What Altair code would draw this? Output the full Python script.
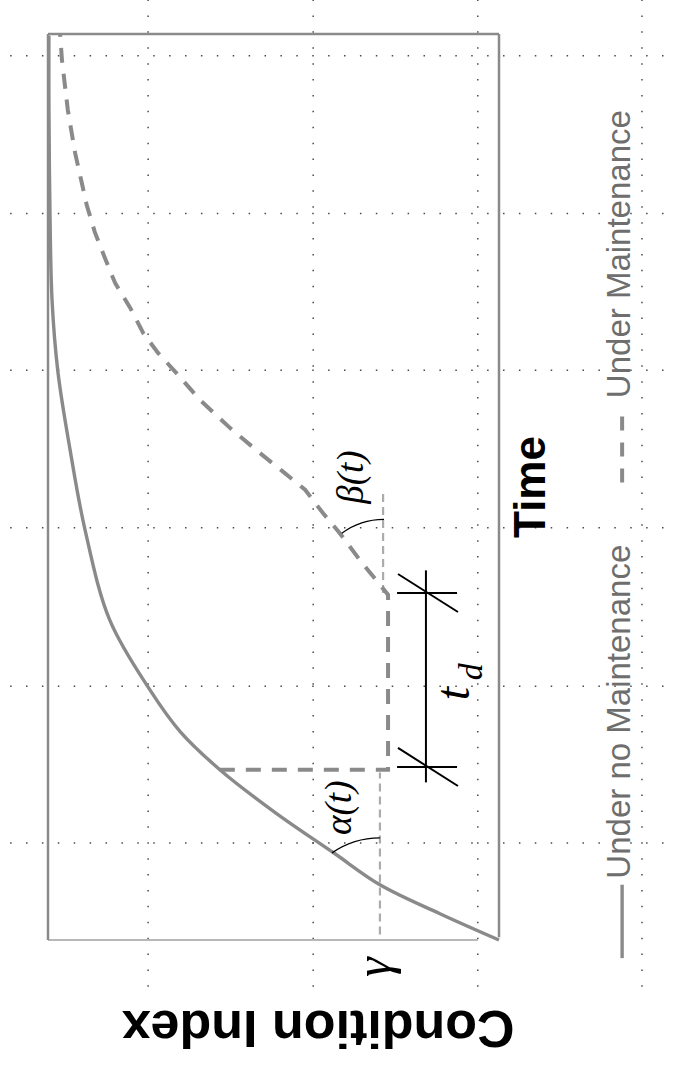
import altair as alt
import pandas as pd

# Condition index (c) runs right-to-left, time (t) runs bottom-to-top.
# Deterioration without maintenance
nm_t = [0.0, 0.29, 0.61, 0.96, 1.41, 1.88, 2.30, 2.76, 3.53, 4.53, 5.41, 6.27, 7.06, 8.17, 9.27, 9.98]
nm_c = [0.0, 1.31, 2.64, 3.66, 4.97, 6.19, 7.07, 7.74, 8.63, 9.18, 9.51, 9.78, 9.91, 9.96, 9.98, 9.98]

# Deterioration with a maintenance action (restore, hold for t_d, deteriorate again)
m_t = [1.88, 1.88, 3.81, 4.19, 4.49, 4.71, 4.97, 5.17, 5.39, 5.65, 5.96, 6.24, 6.48, 6.70,
       6.98, 7.25, 7.53, 7.81, 8.11, 8.69, 9.16, 9.71, 9.99]
m_c = [6.19, 2.46, 2.46, 3.08, 3.53, 3.90, 4.30, 4.79, 5.34, 5.96, 6.63, 7.12, 7.56, 7.89,
       8.18, 8.51, 8.74, 8.96, 9.14, 9.40, 9.56, 9.69, 9.73]

# Threshold gamma and angle reference guides
guide_c = [2.64, 2.57]
guide_t0 = [0.06, 3.83]
guide_t1 = [1.85, 4.95]

# t_d dimension line
td_c = 1.62
td_t = [1.74, 4.08]
td_ticks_t = [1.91, 3.83]
td_ticks_c = [2.26, 0.93]
td_slash_c = [2.24, 0.91]
td_slash_dt = [0.21, -0.21]

# Angle arcs: centre c, centre t, radius px, start angle
arc_c = [2.64, 2.55]
arc_t = [0.20, 3.86]
arc_r = [84, 71]
arc_theta = [5.676, 5.647]

# Background dotted grid
grid_vc = [7.78, 4.12, 0.47, -3.17]
grid_ht = [9.76, 8.02, 6.29, 4.55, 2.80, 1.07]

GRAY = "#8a8a8a"
LIGHT = "#ababab"

X = lambda f="c": alt.X(f"{f}:Q", scale=alt.Scale(domain=[10, 0], nice=False, zero=False), axis=None)
Y = lambda f="t": alt.Y(f"{f}:Q", scale=alt.Scale(domain=[0, 10], nice=False, zero=False), axis=None)

# dotted grid
gv = pd.DataFrame({"c": grid_vc, "t": [10.38] * 4, "t2": [-0.55] * 4})
gh = pd.DataFrame({"t": grid_ht, "c": [10.84] * 6, "c2": [-3.9] * 6})
grid_v = alt.Chart(gv).mark_rule(color="#4a4a4a", strokeWidth=1.5, strokeDash=[1.5, 14.4]).encode(
    x=X(), y=Y(), y2="t2:Q")
grid_h = alt.Chart(gh).mark_rule(color="#4a4a4a", strokeWidth=1.5, strokeDash=[1.5, 14.4]).encode(
    y=Y(), x=X(), x2="c2:Q")

# frame
frame_dark = pd.DataFrame({"c": [10, 10, 0], "c2": [10, 0, 0], "t": [0, 10, 10], "t2": [10, 10, 0.03]})
frame = alt.Chart(frame_dark).mark_rule(color=GRAY, strokeWidth=2.5).encode(
    x=X(), x2="c2:Q", y=Y(), y2="t2:Q")
base_line = alt.Chart(pd.DataFrame({"c": [10], "c2": [0.47], "t": [0], "t2": [0]})).mark_rule(
    color="#b8b8b8", strokeWidth=2).encode(x=X(), x2="c2:Q", y=Y(), y2="t2:Q")

# guides
gd = pd.DataFrame({"c": guide_c, "t": guide_t0, "t2": guide_t1})
guides = alt.Chart(gd).mark_rule(color=LIGHT, strokeWidth=2.2, strokeDash=[8, 5]).encode(
    x=X(), y=Y(), y2="t2:Q")

# curves
nm = pd.DataFrame({"c": nm_c, "t": nm_t, "i": range(len(nm_t))})
curve_nm = alt.Chart(nm).mark_line(color=GRAY, strokeWidth=3.4, interpolate="catmull-rom").encode(
    x=X(), y=Y(), order="i:Q")
md = pd.DataFrame({"c": m_c, "t": m_t, "i": range(len(m_t))})
curve_m = alt.Chart(md).mark_line(color=GRAY, strokeWidth=4, strokeDash=[15, 11]).encode(
    x=X(), y=Y(), order="i:Q")

# t_d dimension
tdl = alt.Chart(pd.DataFrame({"c": [td_c], "t": [td_t[0]], "t2": [td_t[1]]})).mark_rule(
    color="black", strokeWidth=2).encode(x=X(), y=Y(), y2="t2:Q")
tdt = alt.Chart(pd.DataFrame({"t": td_ticks_t, "c": [td_ticks_c[0]] * 2, "c2": [td_ticks_c[1]] * 2})).mark_rule(
    color="black", strokeWidth=2).encode(x=X(), x2="c2:Q", y=Y(), y2="t:Q")
slash = pd.DataFrame({
    "c": [td_slash_c[0]] * 2, "c2": [td_slash_c[1]] * 2,
    "t": [td_ticks_t[0] + td_slash_dt[0], td_ticks_t[1] + td_slash_dt[0]],
    "t2": [td_ticks_t[0] + td_slash_dt[1], td_ticks_t[1] + td_slash_dt[1]],
})
tds = alt.Chart(slash).mark_rule(color="black", strokeWidth=2).encode(
    x=X(), x2="c2:Q", y=Y(), y2="t2:Q")

# angle arcs
arcs = []
for ac, at, ar, ath in zip(arc_c, arc_t, arc_r, arc_theta):
    arcs.append(alt.Chart(pd.DataFrame({"c": [ac], "t": [at]})).mark_arc(
        radius=ar, radius2=ar, theta=ath, theta2=6.283, fillOpacity=0,
        stroke="black", strokeWidth=1.3).encode(x=X(), y=Y()))

MATH = "Liberation Serif"
labels = pd.DataFrame({
    "c": [3.53, 3.26, 2.75],
    "t": [1.46, 5.11, -0.30],
    "txt": ["α(t)", "β(t)", "γ"],
    "fs": [37, 37, 50],
})
math_lbl = alt.Chart(labels).mark_text(font=MATH, fontStyle="italic", angle=270,
                                       align="center", baseline="middle").encode(
    x=X(), y=Y(), text="txt:N", size=alt.Size("fs:Q", scale=None, legend=None))
td_lbl = alt.Chart(pd.DataFrame({"c": [0.98, 0.60], "t": [2.72, 2.96], "txt": ["t", "d"], "fs": [48, 34]})).mark_text(
    font=MATH, fontStyle="italic", angle=270, align="center", baseline="middle").encode(
    x=X(), y=Y(), text="txt:N", size=alt.Size("fs:Q", scale=None, legend=None))

# axis titles
ytitle = alt.Chart(pd.DataFrame({"c": [4.01], "t": [-0.96], "txt": ["Condition Index"]})).mark_text(
    font="Liberation Sans", fontWeight="bold", fontSize=52, angle=180, align="center",
    baseline="middle", color="black").encode(x=X(), y=Y(), text="txt:N")
xtitle = alt.Chart(pd.DataFrame({"c": [-0.73], "t": [5.0], "txt": ["Time"]})).mark_text(
    font="Liberation Sans", fontWeight="bold", fontSize=44, angle=270, align="center",
    baseline="middle", color="black").encode(x=X(), y=Y(), text="txt:N")

# legend
LEG_C = -2.73
leg_solid = alt.Chart(pd.DataFrame({"c": [LEG_C], "t": [-0.20], "t2": [0.61]})).mark_rule(
    color=GRAY, strokeWidth=3.4).encode(x=X(), y=Y(), y2="t2:Q")
leg_dash = alt.Chart(pd.DataFrame({"c": [LEG_C], "t": [5.05], "t2": [5.87]})).mark_rule(
    color=GRAY, strokeWidth=4, strokeDash=[14, 12]).encode(x=X(), y=Y(), y2="t2:Q")
leg_text = alt.Chart(pd.DataFrame({"c": [-2.68, -2.68], "t": [2.52, 7.57],
                                   "txt": ["Under no Maintenance", "Under Maintenance"]})).mark_text(
    font="Liberation Sans", fontSize=33, angle=270,
    align="center", baseline="middle", color="#6e6e6e").encode(x=X(), y=Y(), text="txt:N")

chart = alt.layer(
    grid_v, grid_h, base_line, guides, curve_nm, curve_m, frame, tdl, tdt, tds, *arcs,
    math_lbl, td_lbl, ytitle, xtitle, leg_solid, leg_dash, leg_text,
).properties(
    width=451, height=906, autosize="none",
    padding={"left": 48, "top": 34, "right": 175, "bottom": 126},
    background="white",
).configure_view(stroke=None)

chart.save("out.html", embed_options={"renderer": "svg", "actions": False})
